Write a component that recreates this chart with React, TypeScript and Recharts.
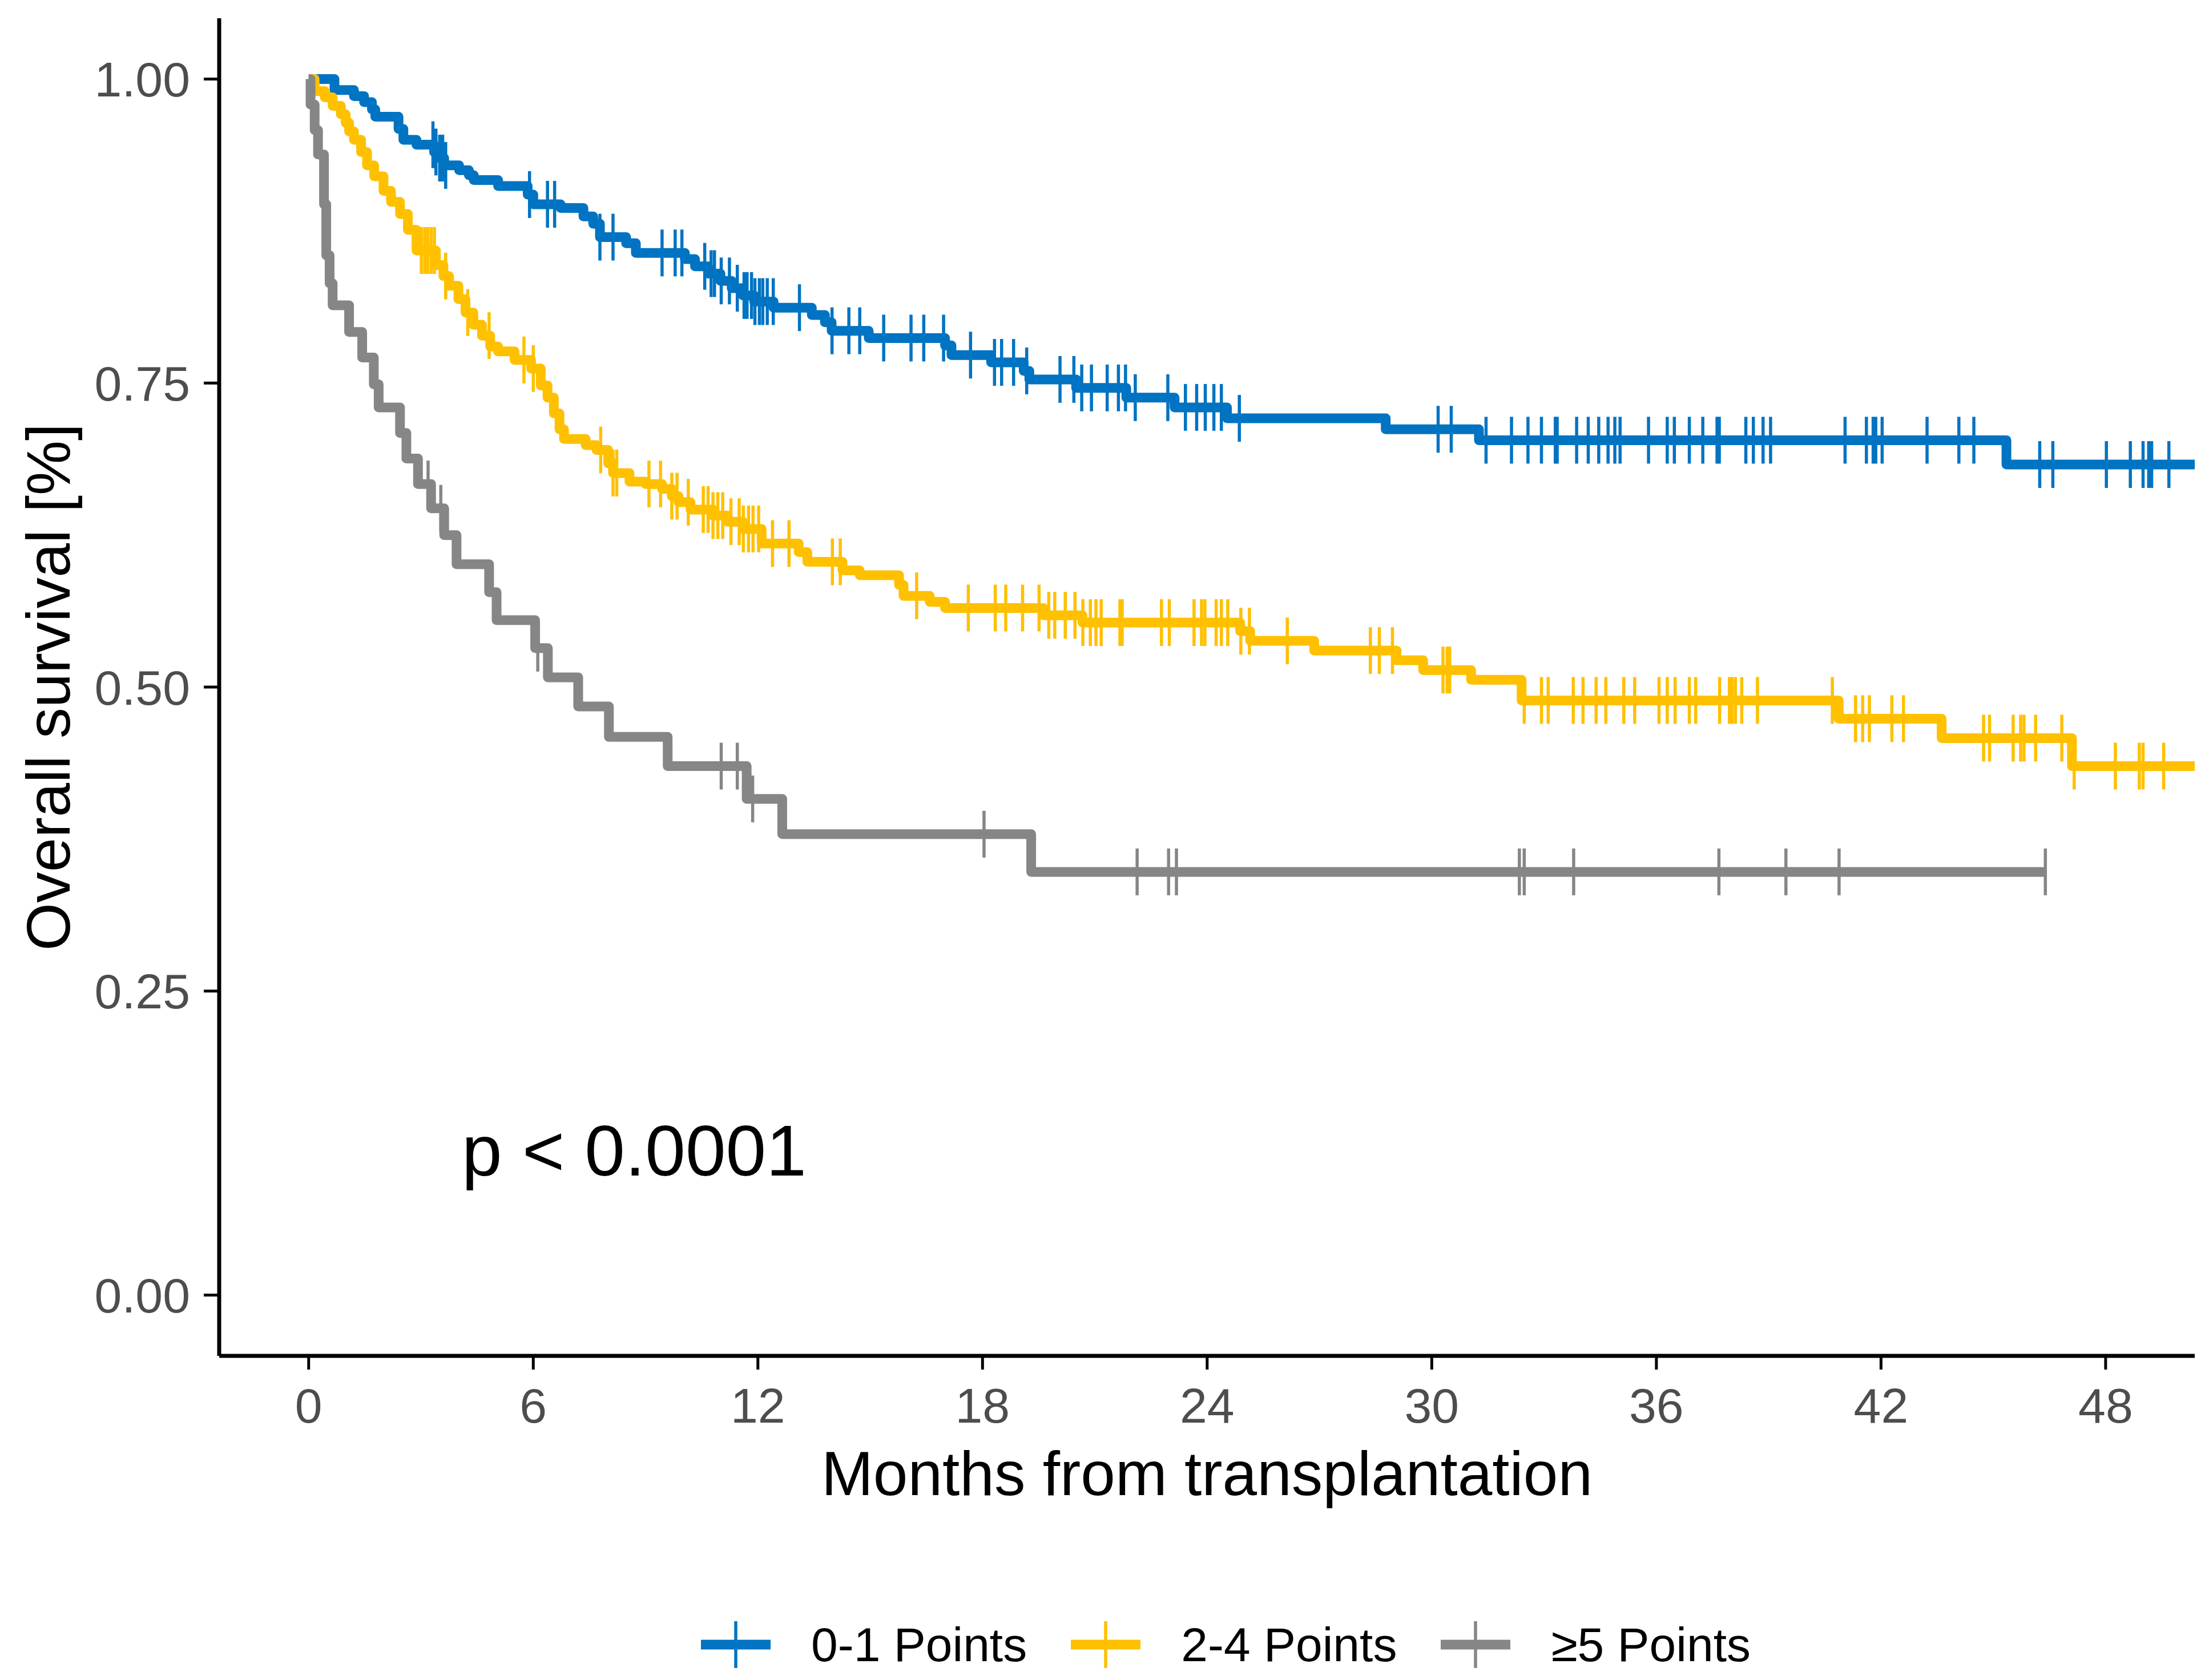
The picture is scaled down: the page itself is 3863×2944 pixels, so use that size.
import React from 'react';
import { ComposedChart, Line, Scatter, XAxis, YAxis, Legend, ReferenceDot } from 'recharts';

const W = 3863;
const H = 2944;
const FONT = '"Liberation Sans", Arial, Helvetica, sans-serif';

const groupNames = ['0-1 Points', '2-4 Points', '≥5 Points'];
const groupColors = ['#0073C2', '#FFC000', '#868686'];

const xTicks = [0, 6, 12, 18, 24, 30, 36, 42, 48];
const yTicks = [0, 0.25, 0.5, 0.75, 1];

// 0-1 points: event times and survival after each step
const lowTimes = [0, 0.69, 1.21, 1.48, 1.69, 1.78, 2.4, 2.53, 2.88, 3.35, 3.49, 3.62, 4.02, 4.28, 4.41, 5.06, 5.85, 6.0, 6.73, 7.34, 7.6, 7.78, 8.48, 8.74, 10.05, 10.32, 10.67, 11.0, 11.3, 11.6, 11.9, 12.42, 13.44, 13.79, 13.97, 14.96, 17.0, 17.17, 18.23, 19.1, 19.25, 20.5, 21.84, 23.13, 24.53, 28.77, 31.26, 45.35];
const lowSurv = [1.0, 0.991, 0.986, 0.981, 0.975, 0.969, 0.959, 0.95, 0.946, 0.94, 0.935, 0.929, 0.925, 0.921, 0.917, 0.912, 0.905, 0.897, 0.894, 0.887, 0.881, 0.87, 0.865, 0.857, 0.852, 0.846, 0.84, 0.834, 0.828, 0.822, 0.817, 0.812, 0.806, 0.8, 0.793, 0.787, 0.781, 0.773, 0.767, 0.76, 0.753, 0.746, 0.738, 0.73, 0.721, 0.712, 0.703, 0.683];
const lowCensor = [3.32, 3.4, 3.5, 3.58, 3.66, 5.9, 6.38, 6.57, 7.78, 8.13, 9.44, 9.79, 9.97, 10.58, 10.75, 10.84, 11.02, 11.24, 11.45, 11.63, 11.71, 11.83, 11.92, 12.04, 12.13, 12.25, 12.41, 13.11, 13.98, 14.43, 14.72, 15.36, 16.09, 16.43, 16.96, 17.68, 18.32, 18.51, 18.83, 19.18, 20.07, 20.44, 20.65, 20.91, 21.33, 21.63, 21.82, 22.08, 22.95, 23.42, 23.72, 23.95, 24.18, 24.38, 24.86, 30.17, 30.52, 31.45, 32.13, 32.57, 32.93, 33.3, 33.35, 33.87, 34.18, 34.46, 34.71, 34.89, 35.03, 35.79, 36.29, 36.48, 36.88, 37.24, 37.62, 37.68, 38.39, 38.59, 38.85, 39.05, 41.04, 41.61, 41.79, 41.86, 42.03, 43.23, 44.08, 44.48, 46.24, 46.59, 48.02, 48.66, 49.0, 49.15, 49.23, 49.69];
const lowEnd = 50.38;

// 2-4 points
const midTimes = [0, 0.16, 0.43, 0.64, 0.86, 0.99, 1.08, 1.21, 1.4, 1.56, 1.75, 2.0, 2.2, 2.44, 2.65, 2.88, 3.4, 3.6, 3.75, 4.0, 4.19, 4.4, 4.63, 4.85, 5.06, 5.5, 5.94, 6.2, 6.38, 6.55, 6.7, 6.82, 7.4, 7.69, 8.0, 8.13, 8.57, 9.0, 9.44, 9.7, 9.88, 10.2, 10.8, 11.19, 11.6, 12.1, 13.09, 13.32, 14.26, 14.72, 15.77, 15.89, 16.59, 17.0, 19.63, 20.67, 24.88, 25.15, 26.86, 29.06, 29.77, 31.05, 32.4, 40.87, 43.62, 47.1];
const midSurv = [1.0, 0.99, 0.985, 0.978, 0.971, 0.964, 0.957, 0.95, 0.94, 0.929, 0.92, 0.908, 0.899, 0.889, 0.876, 0.859, 0.847, 0.838, 0.83, 0.819, 0.808, 0.798, 0.789, 0.78, 0.776, 0.769, 0.762, 0.748, 0.738, 0.725, 0.712, 0.704, 0.699, 0.695, 0.684, 0.676, 0.669, 0.667, 0.663, 0.657, 0.652, 0.646, 0.641, 0.636, 0.63, 0.618, 0.611, 0.603, 0.596, 0.592, 0.584, 0.575, 0.57, 0.565, 0.559, 0.553, 0.546, 0.538, 0.53, 0.522, 0.514, 0.506, 0.489, 0.474, 0.458, 0.435];
const midCensor = [3.01, 3.1, 3.18, 3.27, 3.36, 3.66, 4.25, 4.82, 5.75, 6.0, 7.8, 8.13, 8.23, 9.09, 9.4, 9.7, 9.84, 10.14, 10.54, 10.67, 10.8, 10.93, 11.06, 11.28, 11.5, 11.61, 11.75, 11.87, 12.02, 12.39, 12.83, 13.99, 14.2, 16.24, 17.62, 18.34, 18.62, 19.07, 19.51, 19.77, 19.93, 20.21, 20.47, 20.68, 20.88, 21.03, 21.17, 21.67, 21.73, 22.78, 22.99, 23.65, 23.85, 23.94, 24.24, 24.38, 24.55, 24.9, 25.13, 26.14, 28.36, 28.6, 28.95, 30.3, 30.41, 30.48, 32.47, 32.93, 33.11, 33.78, 34.04, 34.39, 34.65, 35.13, 35.42, 36.07, 36.29, 36.5, 36.88, 37.05, 37.69, 37.95, 38.02, 38.11, 38.28, 38.7, 40.7, 41.32, 41.51, 41.69, 42.29, 42.6, 44.74, 44.9, 45.53, 45.73, 45.82, 46.13, 46.83, 47.16, 48.26, 48.9, 49.0, 49.55];
const midEnd = 50.38;

// >=5 points
const highTimes = [0, 0.05, 0.16, 0.25, 0.41, 0.47, 0.56, 0.64, 1.08, 1.43, 1.74, 1.87, 2.44, 2.61, 2.92, 3.27, 3.62, 3.95, 4.82, 5.02, 6.05, 6.39, 7.2, 8.02, 9.59, 11.7, 12.65, 19.3];
const highSurv = [1.0, 0.979, 0.958, 0.938, 0.897, 0.855, 0.832, 0.814, 0.792, 0.771, 0.749, 0.73, 0.709, 0.688, 0.667, 0.647, 0.625, 0.601, 0.578, 0.555, 0.532, 0.508, 0.484, 0.459, 0.435, 0.408, 0.379, 0.348];
const highCensor = [3.19, 3.53, 6.12, 11.02, 11.45, 11.86, 18.04, 22.13, 22.97, 23.18, 32.34, 32.47, 33.79, 37.67, 39.46, 40.88, 46.39];
const highEnd = 46.39;

const pvalText = 'p < 0.0001';
const pvalAt = { t: 4.09, s: 0.0985 };

const survAt = (times: number[], surv: number[], t: number) => {
  let v = surv[0];
  for (let i = 0; i < times.length; i++) {
    if (times[i] <= t + 1e-9) v = surv[i];
  }
  return v;
};

const buildCurve = (times: number[], surv: number[], end: number) => [
  ...times.map((t, i) => ({ t, s: surv[i] })),
  { t: end, s: surv[surv.length - 1] },
];

const buildCensor = (times: number[], surv: number[], censor: number[]) =>
  censor.map((t) => ({ t, s: survAt(times, surv, t) }));

const series = [
  { curve: buildCurve(lowTimes, lowSurv, lowEnd), marks: buildCensor(lowTimes, lowSurv, lowCensor) },
  { curve: buildCurve(midTimes, midSurv, midEnd), marks: buildCensor(midTimes, midSurv, midCensor) },
  { curve: buildCurve(highTimes, highSurv, highEnd), marks: buildCensor(highTimes, highSurv, highCensor) },
];

const censorShape = (color: string) => (props: any) => {
  const { cx, cy } = props;
  if (cx == null || cy == null) return <g />;
  return <line x1={cx} x2={cx} y1={cy - 41} y2={cy + 41} stroke={color} strokeWidth={5.5} />;
};

const xLabel = (props: any) => {
  const vb = props.viewBox;
  return (
    <text x={vb.x + vb.width / 2} y={vb.y + 244} textAnchor="middle" fontSize={109} fontFamily={FONT} fill="#000">
      Months from transplantation
    </text>
  );
};

const yLabel = (props: any) => {
  const vb = props.viewBox;
  const cx = 122;
  const cy = vb.y + vb.height / 2;
  return (
    <text x={cx} y={cy} textAnchor="middle" fontSize={108} fontFamily={FONT} fill="#000" transform={`rotate(-90, ${cx}, ${cy})`}>
      Overall survival [%]
    </text>
  );
};

const pLabel = (props: any) => {
  const vb = props.viewBox;
  return (
    <text x={vb.x} y={vb.y} fontSize={127} fontFamily={FONT} fill="#000">
      {pvalText}
    </text>
  );
};

function LegendBox() {
  return (
    <div style={{ display: 'flex', alignItems: 'center', height: 82, paddingLeft: 1228, fontFamily: FONT }}>
      {groupNames.map((name, i) => (
        <div key={name} style={{ display: 'flex', alignItems: 'center', marginRight: 77 }}>
          <svg width={122} height={82} style={{ display: 'block' }}>
            <line x1={0} x2={122} y1={41} y2={41} stroke={groupColors[i]} strokeWidth={17} />
            <line x1={61} x2={61} y1={0} y2={82} stroke={groupColors[i]} strokeWidth={5.5} />
          </svg>
          <span style={{ marginLeft: 71, fontSize: 84, lineHeight: '82px', color: '#000', whiteSpace: 'nowrap' }}>{name}</span>
        </div>
      ))}
    </div>
  );
}

export default function App() {
  return (
    <div style={{ position: 'absolute', left: 0, top: 0, width: W, height: H, background: '#fff' }}>
      <ComposedChart width={W} height={H} margin={{ top: 32, right: 18, bottom: 0, left: 0 }}>
        <XAxis
          type="number"
          dataKey="t"
          domain={[-2.39, 50.38]}
          allowDataOverflow
          ticks={xTicks}
          interval={0}
          height={568}
          tickSize={24}
          tickMargin={32}
          axisLine={{ stroke: '#000', strokeWidth: 7 }}
          tickLine={{ stroke: '#000', strokeWidth: 5 }}
          tick={{ fill: '#4D4D4D', fontSize: 86, fontFamily: FONT }}
          label={xLabel}
        />
        <YAxis
          type="number"
          domain={[-0.05, 1.05]}
          allowDataOverflow
          ticks={yTicks}
          interval={0}
          width={384}
          tickSize={27}
          tickMargin={24}
          tickFormatter={(v: number) => v.toFixed(2)}
          axisLine={{ stroke: '#000', strokeWidth: 7 }}
          tickLine={{ stroke: '#000', strokeWidth: 5 }}
          tick={{ fill: '#4D4D4D', fontSize: 86, fontFamily: FONT }}
          label={yLabel}
        />
        {series.map((sr, i) => (
          <Line
            key={'line' + i}
            data={sr.curve}
            dataKey="s"
            type="stepAfter"
            stroke={groupColors[i]}
            strokeWidth={17}
            strokeLinejoin="round"
            dot={false}
            activeDot={false}
            isAnimationActive={false}
            name={groupNames[i]}
          />
        ))}
        {series.map((sr, i) => (
          <Scatter
            key={'cens' + i}
            data={sr.marks}
            dataKey="s"
            fill={groupColors[i]}
            shape={censorShape(groupColors[i])}
            isAnimationActive={false}
            legendType="none"
          />
        ))}
        <ReferenceDot x={pvalAt.t} y={pvalAt.s} r={0} fill="none" stroke="none" label={pLabel} />
        <Legend
          layout="horizontal"
          verticalAlign="middle"
          align="center"
          wrapperStyle={{ left: 0, top: 2841, width: W, height: 82 }}
          content={() => <LegendBox />}
        />
      </ComposedChart>
    </div>
  );
}
